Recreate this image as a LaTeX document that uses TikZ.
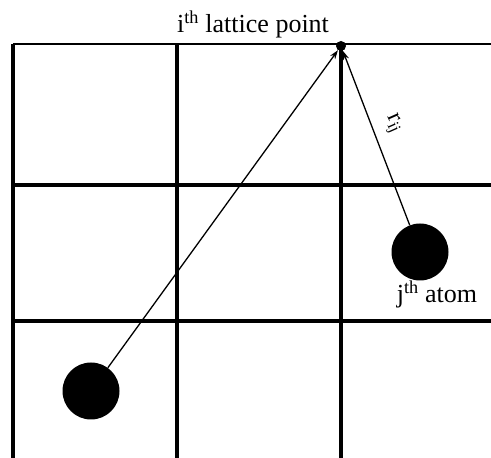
\documentclass[tikz,border=0pt]{standalone}
\usepackage{fontspec}
\setmainfont{Liberation Serif}
\usetikzlibrary{arrows.meta}

\tikzset{
  gridline/.style={line width=3.2pt, black},
  atom/.style={circle, fill=black, inner sep=0pt, minimum size=57pt},
  site/.style={circle, fill=black, inner sep=0pt, minimum size=10pt},
  vec/.style={line width=1.3pt, -{Stealth[length=9pt, width=6pt]}},
  lbl/.style={font=\fontsize{26}{30}\selectfont}
}

\begin{document}
\begin{tikzpicture}[x=1pt, y=1pt]
  \useasboundingbox (0,0) rectangle (491,458);

  % Lattice grid
  \draw[gridline] (13,0) -- (13,414);
  \draw[gridline] (177,0) -- (177,414);
  \draw[gridline] (341,0) -- (341,414);
  \draw[line width=2.4pt] (13,414) -- (491,414);
  \draw[gridline] (13,273) -- (491,273);
  \draw[gridline] (13,137) -- (491,137);

  % Lattice point and atoms
  \node[site] (lattice) at (341,412) {};
  \node[atom] (atomj) at (420,206) {};
  \node[atom] (atomi) at (91,67) {};

  % Vectors to the lattice point
  \draw[vec] (atomi) -- (lattice);
  \draw[vec] (atomj) -- (lattice);

  % Labels
  \node[lbl, anchor=base] (latticelbl) at (253,425) {i\textsuperscript{th} lattice point};
  \node[lbl, anchor=base] (atomjlbl) at (437,155) {j\textsuperscript{th} atom};
  \node[font=\fontsize{24}{28}\selectfont, rotate=-66, inner sep=0pt] (rij) at (393,334) {r\textsubscript{ij}};
\end{tikzpicture}
\end{document}
